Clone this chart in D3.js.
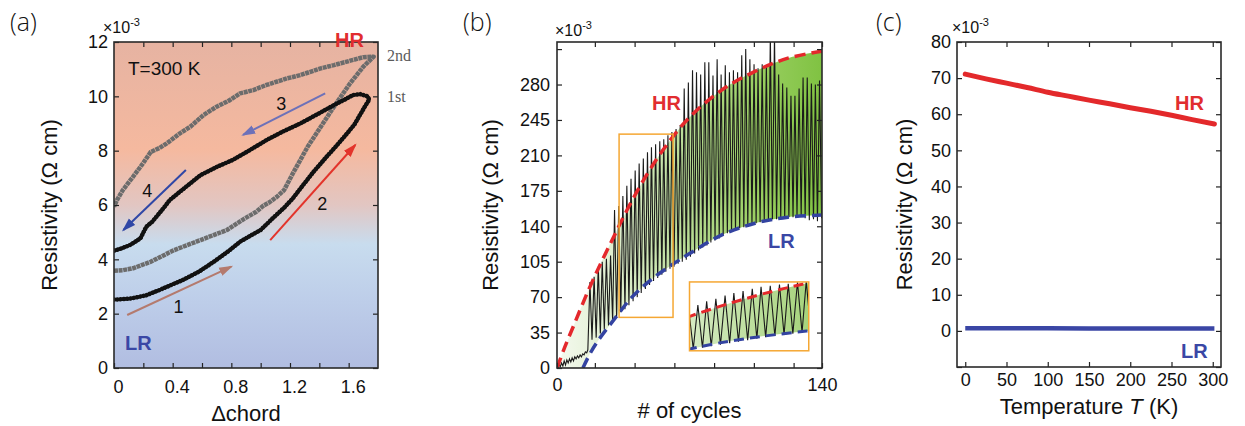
<!DOCTYPE html>
<html>
<head>
<meta charset="utf-8">
<script src="https://cdn.jsdelivr.net/npm/d3@7"></script>
<style>
  body { margin: 0; background: #fff; }
  svg { display: block; font-family: "Liberation Sans", Arial, sans-serif; }
  .tick text { font-size: 18px; fill: #111; font-family: "Liberation Sans", Arial, sans-serif; }
  .tick line { stroke: #222; stroke-width: 1.2; }
  .axis_label { font-size: 22px; fill: #111; }
  .panel_tag { font-family: "Open Sans", sans-serif; font-weight: 300; font-size: 25px; fill: #111; }
  .state { font-weight: bold; font-size: 20px; }
</style>
</head>
<body>
<svg id="chart" width="1245" height="426"></svg>
<script>

// ---------- (a) resistivity vs chord, T = 300 K  (values x1e-3 ohm cm)
let first_up_chord = [0, 0.05, 0.10, 0.155, 0.22, 0.31, 0.40, 0.47, 0.58, 0.68, 0.78, 0.86, 0.94, 1.0, 1.08, 1.16, 1.22, 1.27, 1.36, 1.45, 1.52, 1.59, 1.64, 1.67, 1.71, 1.74, 1.73, 1.68]
let first_up_rho = [2.52, 2.53, 2.55, 2.6, 2.68, 2.87, 3.08, 3.24, 3.55, 3.91, 4.30, 4.65, 4.90, 5.08, 5.50, 5.90, 6.25, 6.60, 7.22, 7.78, 8.20, 8.64, 8.97, 9.25, 9.62, 9.88, 10.0, 10.08]
let first_down_chord = [1.63, 1.58, 1.50, 1.40, 1.27, 1.15, 1.04, 0.92, 0.81, 0.70, 0.59, 0.45, 0.38, 0.34, 0.26, 0.22, 0.18, 0.11, 0.05, 0.0]
let first_down_rho = [10.05, 9.90, 9.68, 9.38, 9.00, 8.70, 8.39, 8.00, 7.66, 7.40, 7.10, 6.49, 6.18, 5.90, 5.38, 5.20, 4.77, 4.53, 4.40, 4.32]

let second_up_chord = [0, 0.06, 0.13, 0.25, 0.41, 0.59, 0.77, 0.89, 0.97, 1.02, 1.06, 1.11, 1.16, 1.22, 1.32, 1.41, 1.50, 1.61, 1.70, 1.77]
let second_up_rho = [3.58, 3.60, 3.67, 3.91, 4.34, 4.71, 5.08, 5.50, 5.75, 5.98, 6.10, 6.30, 6.55, 7.17, 8.14, 8.88, 9.62, 10.48, 11.09, 11.46]
let second_down_chord = [1.77, 1.70, 1.63, 1.50, 1.41, 1.27, 1.18, 1.04, 0.95, 0.86, 0.79, 0.70, 0.61, 0.52, 0.45, 0.36, 0.31, 0.25, 0.20, 0.13, 0.06, 0.02, 0.0]
let second_down_rho = [11.46, 11.44, 11.34, 11.15, 11.03, 10.78, 10.66, 10.42, 10.23, 10.11, 9.86, 9.62, 9.31, 8.88, 8.64, 8.27, 8.10, 7.95, 7.55, 7.04, 6.55, 6.18, 5.94]

// sweep arrows [chord, rho] and their numbers
let arrows_a = [
  {n: "1", from: [0.09, 1.95], to: [0.80, 3.73], at: [0.44, 2.02], color: "#b47a6e"},
  {n: "2", from: [1.065, 4.71], to: [1.645, 8.21], at: [1.42, 5.82], color: "#e3342b"},
  {n: "3", from: [1.44, 10.11], to: [0.88, 8.58], at: [1.14, 9.50], color: "#6d71b9"},
  {n: "4", from: [0.49, 7.29], to: [0.064, 5.08], at: [0.226, 6.29], color: "#3047a6"}
]
let ticks_a_x = [0, 0.2, 0.4, 0.6, 0.8, 1.0, 1.2, 1.4, 1.6]
let labels_a_x = [0, 0.4, 0.8, 1.2, 1.6]
let ticks_a_y = [0, 2, 4, 6, 8, 10, 12]

// ---------- (b) switching over cycles  (values x1e-3 ohm cm)
let noise_cycles = [0.3, 1.0, 1.7, 2.4, 3.1, 3.8, 4.5, 5.2, 5.9, 6.6, 7.3, 8.0, 8.7, 9.4, 10.1, 10.8, 11.5, 12.2, 12.9, 13.6, 14.3, 15.0, 15.7, 16.3]
let noise_rho = [0, 4, 1, 5, 2, 7, 3, 8, 5, 9, 6, 10, 7, 11, 9, 12, 10, 13, 11, 14, 13, 16, 15, 18]

let spike_cycles = [17.4, 19.6, 21.8, 23.9, 26.1, 28.3, 30.4, 32.6, 34.8, 36.9, 39.1, 41.3, 43.4, 45.6, 47.8, 49.9, 52.1, 54.3, 56.4, 58.6,
  60.7, 62.9, 65.1, 67.2, 69.4, 71.6, 73.7, 75.9, 78.1, 80.2, 82.4, 84.6, 86.7, 88.9, 91.1, 93.2, 95.4, 97.6, 99.7, 101.9,
  104.1, 106.2, 108.4, 110.6, 112.7, 114.9, 117.1, 119.2, 121.4, 123.6, 125.7, 127.9, 130.0, 132.2, 134.4, 136.5, 138.7]
let spike_peak = [85, 90, 100, 105, 108, 111, 156, 160, 170, 180, 187, 195, 202, 207, 213, 218, 221, 224, 226, 230,
  233, 236, 240, 276, 282, 294, 292, 290, 302, 302, 289, 305, 290, 299, 292, 294, 292, 309, 315, 305,
  300, 296, 300, 299, 330, 330, 290, 281, 277, 269, 269, 276, 287, 287, 281, 280, 284]
let trough_cycles = [18.5, 20.7, 22.9, 25.0, 27.2, 29.4, 31.5, 33.7, 35.9, 38.0, 40.2, 42.4, 44.5, 46.7, 48.9, 51.0, 53.2, 55.4, 57.5, 59.7,
  61.8, 64.0, 66.2, 68.3, 70.5, 72.7, 74.8, 77.0, 79.2, 81.3, 83.5, 85.7, 87.8, 90.0, 92.2, 94.3, 96.5, 98.7, 100.8, 103.0,
  105.2, 107.3, 109.5, 111.7, 113.8, 116.0, 118.2, 120.3, 122.5, 124.7, 126.8, 129.0, 131.1, 133.3, 135.5, 137.6, 139.8]
let spike_trough = [28, 30, 34, 38, 42, 46, 50, 55, 58, 62, 66, 70, 74, 78, 82, 86, 89, 92, 95, 98,
  100, 103, 105, 107, 110, 113, 116, 119, 121, 124, 126, 128, 131, 133, 135, 136, 138, 139, 140, 142,
  143, 144, 145, 146, 147, 147, 148, 148, 149, 149, 150, 150, 148, 146, 147, 145, 148]

let hr_cycles = [0, 4.2, 9.5, 16.4, 23.8, 30.6, 37, 44.9, 55.5, 69.2, 86.6, 104.6, 122, 140]
let hr_rho = [0, 21, 45, 76, 106, 132, 156, 183, 214, 246, 274, 293, 306, 313]
let lr_cycles = [13.7, 17.4, 21.7, 30.6, 39.6, 50.2, 60.8, 69.2, 86.6, 104.6, 122, 140]
let lr_rho = [0, 14, 27, 49, 70, 88, 102, 112, 131, 143, 149, 151]

let zoom_window = {c0: 32.8, c1: 61.3, r0: 50, r1: 231}   // orange box, data units
let inset_place = {c0: 70, c1: 133, r0: 17, r1: 85}       // where the magnified copy sits
let ticks_b_x = [20, 41, 62, 83, 104, 125]
let labels_b_x = [0, 140]
let ticks_b_y = [0, 35, 70, 105, 140, 175, 210, 245, 280, 315]
let labels_b_y = [0, 35, 70, 105, 140, 175, 210, 245, 280]

// ---------- (c) temperature dependence  (values x1e-3 ohm cm)
let hr_temp = [0, 25, 50, 75, 100, 125, 150, 175, 200, 225, 250, 275, 302]
let hr_res = [71.1, 69.8, 68.6, 67.4, 66.1, 65.0, 63.9, 62.9, 61.8, 60.8, 59.7, 58.5, 57.3]
let lr_temp = [0, 100, 200, 302]
let lr_res = [0.7, 0.7, 0.65, 0.65]
let ticks_c_x = [0, 50, 100, 150, 200, 250, 300]
let ticks_c_y = [-10, 0, 10, 20, 30, 40, 50, 60, 70, 80]
let labels_c_y = [0, 10, 20, 30, 40, 50, 60, 70, 80]

let svg = d3.select("#chart")
let defs = svg.append("defs")

let box_a = {left: 114, right: 378, top: 42, bottom: 368},
    box_b = {left: 557, right: 822, top: 42, bottom: 368},
    box_c = {left: 957, right: 1221, top: 42, bottom: 367};

let pts = (xs, ys) => xs.map((v, i) => [v, ys[i]])

function clip(id, box) {
  defs.append("clipPath").attr("id", id)
    .append("rect")
    .attr("x", box.left).attr("y", box.top)
    .attr("width", box.right - box.left).attr("height", box.bottom - box.top)
}

function add_axes(box, scales, t) {
  let g = svg.append("g")
  let lab = (list) => (d => list.includes(d) ? String(d) : "")
  let bottom = g.append("g").attr("transform", `translate(0,${box.bottom})`)
    .call(d3.axisBottom(scales.x).tickValues(t.x).tickSize(-5).tickPadding(t.xpad).tickFormat(lab(t.xlab)))
  bottom.selectAll("text").attr("dx", t.xdx || 0)
  g.append("g").attr("transform", `translate(0,${box.top})`)
    .call(d3.axisTop(scales.x).tickValues(t.x.filter(v => v > scales.x.domain()[0])).tickSize(-5).tickFormat(""))
  g.append("g").attr("transform", `translate(${box.left},0)`)
    .call(d3.axisLeft(scales.y).tickValues(t.y).tickSize(-5).tickPadding(t.ypad).tickFormat(lab(t.ylab)))
  g.append("g").attr("transform", `translate(${box.right},0)`)
    .call(d3.axisRight(scales.y).tickValues(t.y).tickSize(-5).tickFormat(""))
  g.selectAll(".domain").remove()
  g.append("rect")
    .attr("x", box.left).attr("y", box.top)
    .attr("width", box.right - box.left).attr("height", box.bottom - box.top)
    .attr("fill", "none").attr("stroke", "#2a2a2a").attr("stroke-width", 1.6)
}

function labels(box, tag, tag_x, ylab_x, xlab_y, xlab, exp_x, exp_y) {
  svg.append("text").attr("class", "panel_tag").attr("x", tag_x).attr("y", 31).text(tag)
  let e = svg.append("text").attr("x", exp_x).attr("y", exp_y).attr("font-size", 16).attr("fill", "#111").text("×10")
  e.append("tspan").attr("dy", -7).attr("font-size", 11).text("-3")
  svg.append("text").attr("class", "axis_label")
    .attr("transform", `translate(${ylab_x},${(box.top + box.bottom) / 2})rotate(-90)`)
    .attr("text-anchor", "middle").attr("dy", "0.35em")
    .text("Resistivity (Ω cm)")
  let xl = svg.append("text").attr("class", "axis_label")
    .attr("x", (box.left + box.right) / 2).attr("y", xlab_y).attr("text-anchor", "middle")
  xlab(xl)
}

function arrow_marker(id, color) {
  defs.append("marker").attr("id", id)
    .attr("markerUnits", "userSpaceOnUse")
    .attr("markerWidth", 14).attr("markerHeight", 10)
    .attr("refX", 12).attr("refY", 5).attr("orient", "auto")
    .append("path").attr("d", "M0,0.5 L14,5 L0,9.5 Z").attr("fill", color)
}

// ================= panel (a)
function panel_a() {
  let x = d3.scaleLinear().domain([0, 1.8]).range([box_a.left, box_a.right]),
      y = d3.scaleLinear().domain([0, 12]).range([box_a.bottom, box_a.top]);

  let grad = defs.append("linearGradient").attr("id", "bg_a")
    .attr("x1", 0).attr("y1", 0).attr("x2", 0).attr("y2", 1)
  ;[[0, "#e6b3a2"], [0.33, "#f5b99f"], [0.5, "#e2c6c2"], [0.62, "#c8dcee"], [0.8, "#bdcde9"], [1, "#b1bde1"]]
    .forEach(s => grad.append("stop").attr("offset", s[0]).attr("stop-color", s[1]))
  svg.append("rect")
    .attr("x", box_a.left).attr("y", box_a.top)
    .attr("width", box_a.right - box_a.left).attr("height", box_a.bottom - box_a.top)
    .attr("fill", "url(#bg_a)")

  clip("clip_a", box_a)
  let g = svg.append("g").attr("clip-path", "url(#clip_a)")
  let line = d3.line().x(d => x(d[0])).y(d => y(d[1]))

  let second = pts(second_up_chord, second_up_rho).concat(pts(second_down_chord, second_down_rho))
  g.append("path").attr("d", line(second))
    .attr("fill", "none").attr("stroke", "#6c6c6c").attr("stroke-width", 4.5)
    .attr("stroke-dasharray", "4,0.6").attr("stroke-linejoin", "round")

  let first = pts(first_up_chord, first_up_rho).concat(pts(first_down_chord, first_down_rho))
  g.append("path").attr("d", line(first))
    .attr("fill", "none").attr("stroke", "#111").attr("stroke-width", 3.2).attr("stroke-linejoin", "round")
  g.append("path").attr("d", line(first))
    .attr("fill", "none").attr("stroke", "#111").attr("stroke-width", 4.5)
    .attr("stroke-linecap", "round").attr("stroke-dasharray", "0.1,3.2")

  arrows_a.forEach((a, i) => {
    arrow_marker("arr_a" + i, a.color)
    svg.append("line")
      .attr("x1", x(a.from[0])).attr("y1", y(a.from[1]))
      .attr("x2", x(a.to[0])).attr("y2", y(a.to[1]))
      .attr("stroke", a.color).attr("stroke-width", 2)
      .attr("marker-end", `url(#arr_a${i})`)
    svg.append("text").attr("x", x(a.at[0])).attr("y", y(a.at[1]))
      .attr("text-anchor", "middle").attr("font-size", 18).attr("fill", "#111").text(a.n)
  })

  add_axes(box_a, {x, y}, {x: ticks_a_x, xlab: labels_a_x, xpad: 12, xdx: 4, y: ticks_a_y, ylab: ticks_a_y, ypad: 6})

  svg.append("text").attr("x", 128).attr("y", 75).attr("font-size", 19).attr("fill", "#111").text("T=300 K")
  svg.append("text").attr("class", "state").attr("x", 335).attr("y", 47).attr("fill", "#e12d2f").text("HR")
  svg.append("text").attr("class", "state").attr("x", 125).attr("y", 350).attr("font-size", 21).attr("fill", "#3a47a5").text("LR")
  svg.append("text").attr("x", 387).attr("y", 61).attr("font-family", "Liberation Serif, serif").attr("font-size", 16).attr("fill", "#5a5a5a").text("2nd")
  svg.append("text").attr("x", 387).attr("y", 102).attr("font-family", "Liberation Serif, serif").attr("font-size", 16).attr("fill", "#5a5a5a").text("1st")

  labels(box_a, "(a)", 10, 49, 421, t => t.text("Δchord"), 103, 33)
}

// ================= panel (b)
function draw_cycles(g, x, y, grad_id, dash_w, dash) {
  let env = d3.line().x(d => x(d[0])).y(d => y(d[1])).curve(d3.curveCatmullRom)
  let hr = pts(hr_cycles, hr_rho), lr = pts(lr_cycles, lr_rho)
  let band = env(hr) + env(lr.slice().reverse()).replace("M", "L") + `L${x(0)},${y(0)}Z`
  g.append("path").attr("d", band).attr("fill", `url(#${grad_id})`)

  let trace = pts(noise_cycles, noise_rho)
  spike_cycles.forEach((c, i) => {
    trace.push([c, spike_peak[i]])
    trace.push([trough_cycles[i], spike_trough[i]])
  })
  g.append("path").attr("d", d3.line().x(d => x(d[0])).y(d => y(d[1]))(trace))
    .attr("fill", "none").attr("stroke", "#1a1a1a").attr("stroke-width", 1.1).attr("stroke-linejoin", "miter")

  g.append("path").attr("d", env(hr)).attr("fill", "none")
    .attr("stroke", "#e4282c").attr("stroke-width", dash_w).attr("stroke-dasharray", dash)
  g.append("path").attr("d", env(lr)).attr("fill", "none")
    .attr("stroke", "#3343a1").attr("stroke-width", dash_w).attr("stroke-dasharray", dash)
}

function green(id, x0, x1, stops) {
  let gr = defs.append("linearGradient").attr("id", id).attr("gradientUnits", "userSpaceOnUse")
    .attr("x1", x0).attr("y1", 0).attr("x2", x1).attr("y2", 0)
  stops.forEach(s => gr.append("stop").attr("offset", s[0]).attr("stop-color", s[1]))
}

function panel_b() {
  let x = d3.scaleLinear().domain([0, 140]).range([box_b.left, box_b.right]),
      y = d3.scaleLinear().domain([0, 322]).range([box_b.bottom, box_b.top]);

  green("green_b", box_b.left, box_b.right,
    [[0, "#f4f9ef"], [0.25, "#dcedca"], [0.5, "#b7db93"], [0.75, "#9acf62"], [1, "#80c242"]])
  clip("clip_b", box_b)
  let g = svg.append("g").attr("clip-path", "url(#clip_b)")
  draw_cycles(g, x, y, "green_b", 3.5, "11,6")

  // orange window on the main trace
  svg.append("rect")
    .attr("x", x(zoom_window.c0)).attr("y", y(zoom_window.r1))
    .attr("width", x(zoom_window.c1) - x(zoom_window.c0)).attr("height", y(zoom_window.r0) - y(zoom_window.r1))
    .attr("fill", "none").attr("stroke", "#f5a733").attr("stroke-width", 1.5)

  // magnified copy
  let ibox = {left: x(inset_place.c0), right: x(inset_place.c1), top: y(inset_place.r1), bottom: y(inset_place.r0)}
  let xi = d3.scaleLinear().domain([zoom_window.c0, zoom_window.c1]).range([ibox.left, ibox.right]),
      yi = d3.scaleLinear().domain([zoom_window.r0, zoom_window.r1]).range([ibox.bottom, ibox.top]);
  green("green_i", ibox.left, ibox.right, [[0, "#d6ebc3"], [1, "#a6d37c"]])
  clip("clip_i", ibox)
  svg.append("rect").attr("x", ibox.left).attr("y", ibox.top)
    .attr("width", ibox.right - ibox.left).attr("height", ibox.bottom - ibox.top).attr("fill", "#fff")
  let gi = svg.append("g").attr("clip-path", "url(#clip_i)")
  draw_cycles(gi, xi, yi, "green_i", 3, "10,6")
  svg.append("rect").attr("x", ibox.left).attr("y", ibox.top)
    .attr("width", ibox.right - ibox.left).attr("height", ibox.bottom - ibox.top)
    .attr("fill", "none").attr("stroke", "#f5a733").attr("stroke-width", 1.5)

  add_axes(box_b, {x, y}, {x: ticks_b_x.concat(labels_b_x), xlab: labels_b_x, xpad: 10, y: ticks_b_y, ylab: labels_b_y, ypad: 7})

  svg.append("text").attr("class", "state").attr("x", 652).attr("y", 110).attr("fill", "#e12d2f").text("HR")
  svg.append("text").attr("class", "state").attr("x", 768).attr("y", 248).attr("fill", "#3a47a5").text("LR")

  labels(box_b, "(b)", 463, 490, 418, t => t.text("# of cycles"), 555, 36)
}

// ================= panel (c)
function panel_c() {
  let x = d3.scaleLinear().domain([-10, 310]).range([box_c.left, box_c.right]),
      y = d3.scaleLinear().domain([-10, 80]).range([box_c.bottom, box_c.top]);
  clip("clip_c", box_c)
  let g = svg.append("g").attr("clip-path", "url(#clip_c)")
  let line = d3.line().x(d => x(d[0])).y(d => y(d[1])).curve(d3.curveMonotoneX)
  g.append("path").attr("d", line(pts(hr_temp, hr_res)))
    .attr("fill", "none").attr("stroke", "#e3292b").attr("stroke-width", 5).attr("stroke-linecap", "round")
  g.append("path").attr("d", line(pts(lr_temp, lr_res)))
    .attr("fill", "none").attr("stroke", "#3a46a5").attr("stroke-width", 4.5)

  add_axes(box_c, {x, y}, {x: ticks_c_x, xlab: ticks_c_x, xpad: 6, y: ticks_c_y, ylab: labels_c_y, ypad: 6})

  svg.append("text").attr("class", "state").attr("x", 1175).attr("y", 110).attr("font-size", 21).attr("fill", "#e12d2f").text("HR")
  svg.append("text").attr("class", "state").attr("x", 1181).attr("y", 358).attr("font-size", 21).attr("fill", "#3a47a5").text("LR")

  labels(box_c, "(c)", 876, 904, 414, t => {
    t.append("tspan").text("Temperature ")
    t.append("tspan").attr("font-style", "italic").text("T")
    t.append("tspan").text(" (K)")
  }, 952, 33)
}

panel_a()
panel_b()
panel_c()
</script>
</body>
</html>
